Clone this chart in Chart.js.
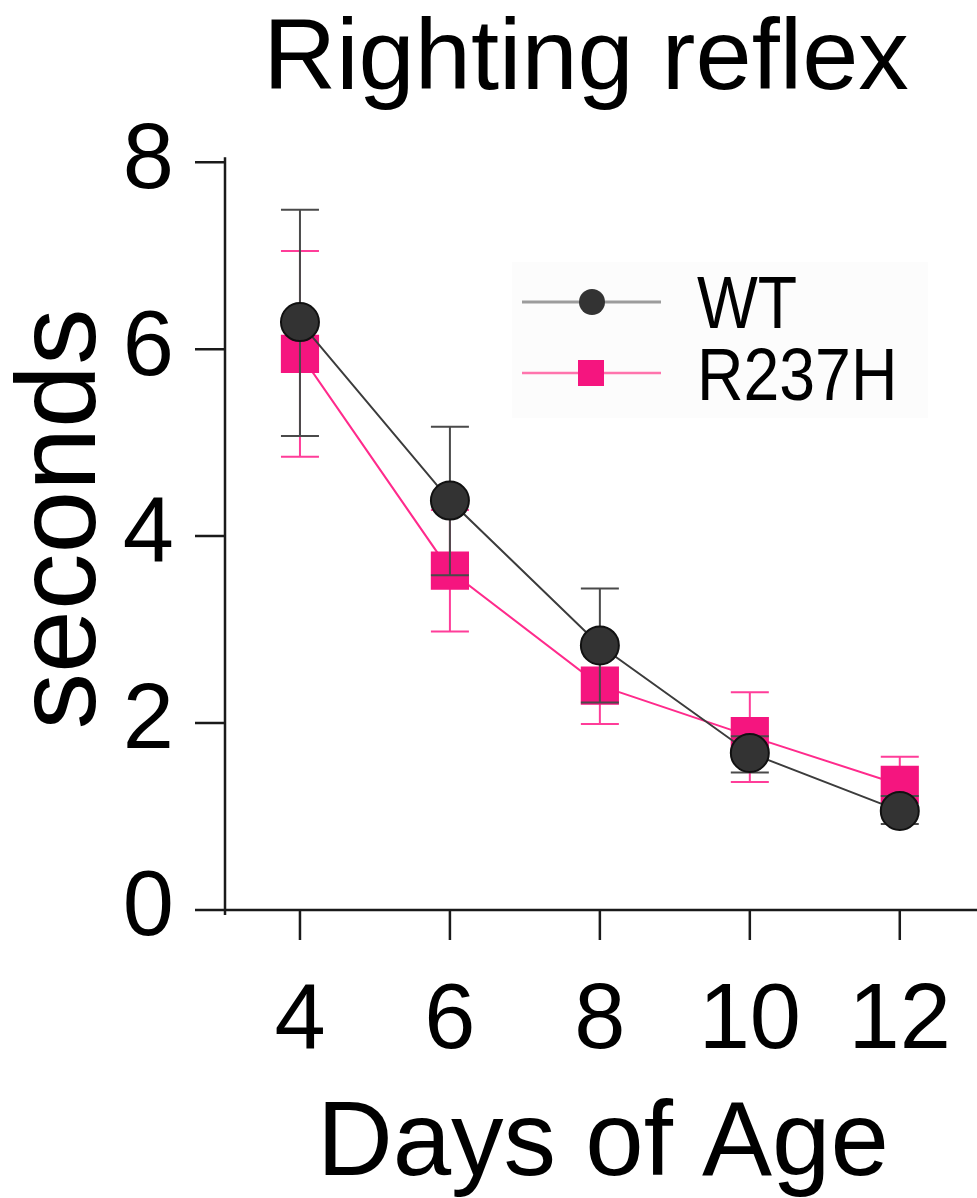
<!DOCTYPE html>
<html>
<head>
<meta charset="utf-8">
<title>Righting reflex</title>
<script src="https://cdn.jsdelivr.net/npm/chart.js@4.4.1/dist/chart.umd.min.js"></script>
<style>
  html, body { margin: 0; padding: 0; background: #ffffff; }
  canvas { display: block; }
</style>
</head>
<body>
<canvas id="chart" width="977" height="1198"></canvas>
<script>
// Days of age at which the righting reflex was timed
const days = [4, 6, 8, 10, 12];

// Mean righting time (seconds) with error bar ends
const wtMean  = [6.29, 4.38, 2.83, 1.68, 1.06];
const wtUpper = [7.49, 5.17, 3.44, 1.86, 1.22];
const wtLower = [5.07, 3.58, 2.22, 1.47, 0.92];

const mutMean  = [5.95, 3.63, 2.40, 1.86, 1.34];
const mutUpper = [7.05, 4.28, 2.81, 2.33, 1.64];
const mutLower = [4.85, 2.98, 1.99, 1.37, 1.04];

const yTicks = [0, 2, 4, 6, 8];
const seriesNames = ['WT', 'R237H'];

const FONT = "'Liberation Sans', Arial, Helvetica, sans-serif";
const INK = '#1a1a1a';
const WT_COLOR = '#333333';
const WT_LINE = '#3c3c3c';
const WT_BAR = '#4a4a4a';
const MUT_COLOR = '#f5157f';
const MUT_LINE = '#ff2b8c';
const MUT_BAR = '#ff3d99';

const errorEnds = [
  { upper: wtUpper, lower: wtLower, color: WT_BAR },
  { upper: mutUpper, lower: mutLower, color: MUT_BAR }
];

const toPoints = (ys) => days.map((d, i) => ({ x: d, y: ys[i] }));

// Error bars are drawn just beneath each dataset's own line and markers
const errorBarPlugin = {
  id: 'errorBars',
  beforeDatasetDraw(chart, args) {
    const spec = errorEnds[args.index];
    if (!spec) return;
    const { ctx, scales: { x, y } } = chart;
    const cap = 19;
    ctx.save();
    ctx.strokeStyle = spec.color;
    ctx.lineWidth = 2;
    days.forEach((d, i) => {
      const px = x.getPixelForValue(d);
      const top = y.getPixelForValue(spec.upper[i]);
      const bot = y.getPixelForValue(spec.lower[i]);
      ctx.beginPath();
      ctx.moveTo(px, top); ctx.lineTo(px, bot);
      ctx.moveTo(px - cap, top); ctx.lineTo(px + cap, top);
      ctx.moveTo(px - cap, bot); ctx.lineTo(px + cap, bot);
      ctx.stroke();
    });
    ctx.restore();
  }
};

// Offset y axis with outward ticks, and the x axis with its ticks
const axesPlugin = {
  id: 'prismAxes',
  beforeDatasetsDraw(chart) {
    const { ctx, chartArea, scales: { x, y } } = chart;
    const tickLen = 30;
    const axisX = chartArea.left + tickLen;
    const y0 = y.getPixelForValue(0);
    ctx.save();
    ctx.strokeStyle = INK;
    ctx.lineWidth = 2.5;
    ctx.beginPath();
    ctx.moveTo(axisX, y.getPixelForValue(8) - 5);
    ctx.lineTo(axisX, y0 + 5);
    yTicks.forEach(v => {
      const py = y.getPixelForValue(v);
      ctx.moveTo(chartArea.left, py);
      ctx.lineTo(axisX, py);
    });
    ctx.moveTo(chartArea.left, y0);
    ctx.lineTo(chartArea.right, y0);
    days.forEach(d => {
      const px = x.getPixelForValue(d);
      ctx.moveTo(px, y0);
      ctx.lineTo(px, y0 + tickLen);
    });
    ctx.stroke();
    ctx.restore();
  }
};

// Axis titles and the series key
const labelsPlugin = {
  id: 'labelsAndKey',
  afterDraw(chart) {
    const { ctx, scales: { x } } = chart;
    ctx.save();
    ctx.fillStyle = '#000';

    // x axis title, centred under the tick range
    ctx.font = '105px ' + FONT;
    ctx.textAlign = 'center';
    ctx.textBaseline = 'alphabetic';
    const xMid = (x.getPixelForValue(days[0]) + x.getPixelForValue(days[days.length - 1])) / 2;
    ctx.fillText('Days of Age', xMid + 3, 1175);

    // y axis title
    ctx.save();
    ctx.translate(64, 519);
    ctx.rotate(-Math.PI / 2);
    ctx.font = '113px ' + FONT;
    ctx.textBaseline = 'middle';
    ctx.fillText('seconds', 0, 0);
    ctx.restore();

    // key
    ctx.fillStyle = '#fcfcfc';
    ctx.fillRect(512, 262, 416, 156);

    const rows = [
      { y: 302, line: '#9c9c9c', lw: 3, text: seriesNames[0], base: 328, marker: 'circle' },
      { y: 373, line: '#ff74ad', lw: 2.5, text: seriesNames[1], base: 400, marker: 'square' }
    ];
    rows.forEach(r => {
      ctx.strokeStyle = r.line;
      ctx.lineWidth = r.lw;
      ctx.beginPath();
      ctx.moveTo(522, r.y);
      ctx.lineTo(661, r.y);
      ctx.stroke();
      if (r.marker === 'circle') {
        ctx.fillStyle = WT_COLOR;
        ctx.beginPath();
        ctx.arc(592, r.y, 13, 0, Math.PI * 2);
        ctx.fill();
      } else {
        ctx.fillStyle = MUT_COLOR;
        ctx.fillRect(578, r.y - 13, 26, 26);
      }
      ctx.save();
      ctx.translate(697, r.base);
      ctx.scale(0.87, 1);
      ctx.fillStyle = '#000';
      ctx.font = '74px ' + FONT;
      ctx.textAlign = 'left';
      ctx.textBaseline = 'alphabetic';
      ctx.fillText(r.text, 0, 0);
      ctx.restore();
    });
    ctx.restore();
  }
};

new Chart(document.getElementById('chart'), {
  type: 'line',
  data: {
    datasets: [
      {
        label: seriesNames[0],
        data: toPoints(wtMean),
        borderColor: WT_LINE,
        borderWidth: 2,
        backgroundColor: WT_COLOR,
        pointStyle: 'circle',
        pointRadius: 19,
        pointBorderColor: '#111111',
        pointBorderWidth: 2,
        pointBackgroundColor: WT_COLOR,
        tension: 0
      },
      {
        label: seriesNames[1],
        data: toPoints(mutMean),
        borderColor: MUT_LINE,
        borderWidth: 2,
        backgroundColor: MUT_COLOR,
        pointStyle: 'rect',
        pointRadius: 27,
        pointBorderWidth: 0,
        pointBorderColor: MUT_COLOR,
        pointBackgroundColor: MUT_COLOR,
        tension: 0
      }
    ]
  },
  options: {
    responsive: false,
    animation: false,
    devicePixelRatio: 1,
    events: [],
    layout: { autoPadding: false, padding: { top: 0, right: 0, bottom: 0, left: 0 } },
    plugins: {
      legend: { display: false },
      tooltip: { enabled: false },
      title: {
        display: true,
        text: 'Righting reflex',
        fullSize: false,
        color: '#000',
        font: { family: FONT, size: 101, weight: 'normal', lineHeight: 1.2 },
        padding: { top: 1, bottom: 40 }
      }
    },
    scales: {
      x: {
        type: 'linear',
        min: 2.6,
        max: 13.03,
        border: { display: false },
        grid: { display: false, drawTicks: false },
        afterBuildTicks(scale) { scale.ticks = days.map(v => ({ value: v })); },
        afterFit(scale) {
          scale.height = 288;
          scale.paddingLeft = 0;
          scale.paddingRight = 0;
        },
        ticks: {
          color: '#000',
          padding: 57,
          maxRotation: 0,
          autoSkip: false,
          font: { family: FONT, size: 92 }
        }
      },
      y: {
        type: 'linear',
        min: 0,
        max: 8,
        border: { display: false },
        grid: { display: false, drawTicks: false },
        afterBuildTicks(scale) { scale.ticks = yTicks.map(v => ({ value: v })); },
        afterFit(scale) {
          scale.width = 195;
          scale.paddingTop = 0;
          scale.paddingBottom = 0;
        },
        ticks: {
          color: '#000',
          padding: 21,
          font: { family: FONT, size: 92 }
        }
      }
    }
  },
  plugins: [errorBarPlugin, axesPlugin, labelsPlugin]
});
</script>
</body>
</html>
